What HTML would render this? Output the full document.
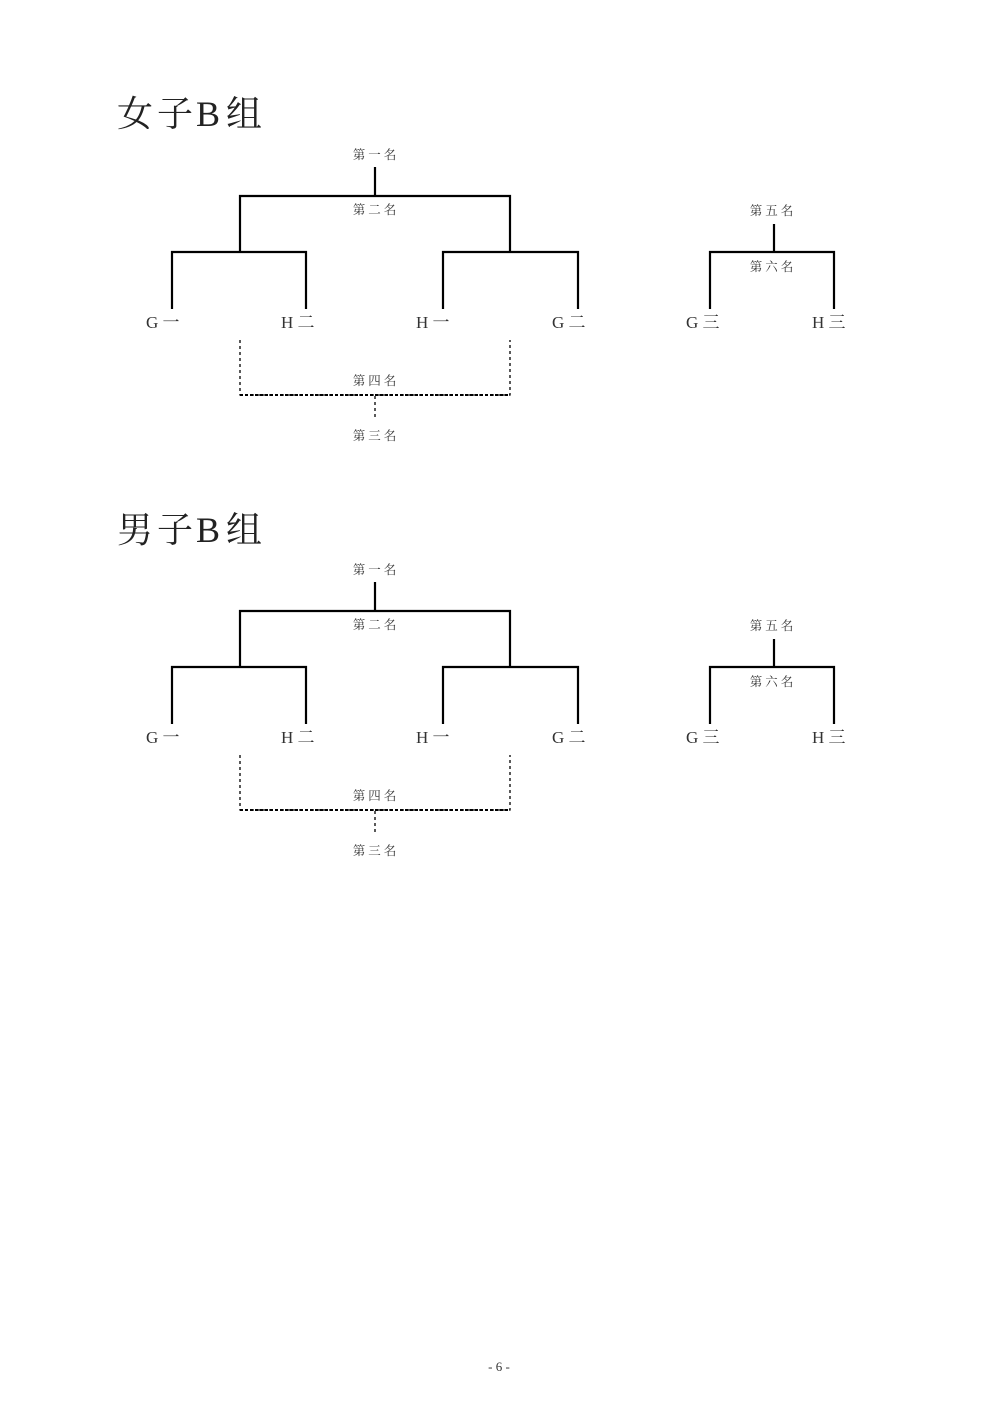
<!DOCTYPE html>
<html><head><meta charset="utf-8">
<style>
html,body{margin:0;padding:0;background:#fff;}
svg{display:block;}
text{font-family:"Liberation Serif","Noto Serif CJK SC","Noto Sans CJK SC",serif;fill:#222;}
.t{font-size:36px;}
.s{font-size:12.5px;text-anchor:middle;fill:#333;letter-spacing:3px;}
.m{font-size:17px;fill:#333;}
</style></head>
<body>
<svg width="992" height="1403" viewBox="0 0 992 1403" xmlns="http://www.w3.org/2000/svg">
<defs>
<g id="br">
  <g stroke="#000" stroke-width="2.2" fill="none">
    <path d="M375 167V196M240 252V196H510V252M172 309V252H306V309M443 309V252H578V309"/>
    <path d="M774 224V252M710 309V252H834V309"/>
  </g>
  <g stroke="#000" stroke-width="1.3" fill="none" stroke-dasharray="3,3">
    <path d="M240 340V395H510V340"/>
    <path d="M375 396V420"/>
  </g>
  <path d="M240 395H510" stroke="#000" stroke-width="2" stroke-dasharray="3,2"/>
  <text class="s" x="376" y="159">第一名</text>
  <text class="s" x="376" y="214">第二名</text>
  <text class="s" x="376" y="385">第四名</text>
  <text class="s" x="376" y="440">第三名</text>
  <text class="s" x="773" y="215">第五名</text>
  <text class="s" x="773" y="271">第六名</text>
  <text class="m" x="146" y="328">G 一</text>
  <text class="m" x="281" y="328">H 二</text>
  <text class="m" x="416" y="328">H 一</text>
  <text class="m" x="552" y="328">G 二</text>
  <text class="m" x="686" y="328">G 三</text>
  <text class="m" x="812" y="328">H 三</text>
</g>
</defs>
<text class="t" x="117" y="126">女</text><text class="t" x="157" y="126">子</text><text class="t" x="196" y="126">B</text><text class="t" x="226" y="126">组</text>
<use href="#br"/>
<text class="t" x="117" y="542">男</text><text class="t" x="157" y="542">子</text><text class="t" x="196" y="542">B</text><text class="t" x="226" y="542">组</text>
<use href="#br" transform="translate(0,415)"/>
<text x="499" y="1371" style="font-size:13px;text-anchor:middle;fill:#333">- 6 -</text>
</svg>
</body></html>
